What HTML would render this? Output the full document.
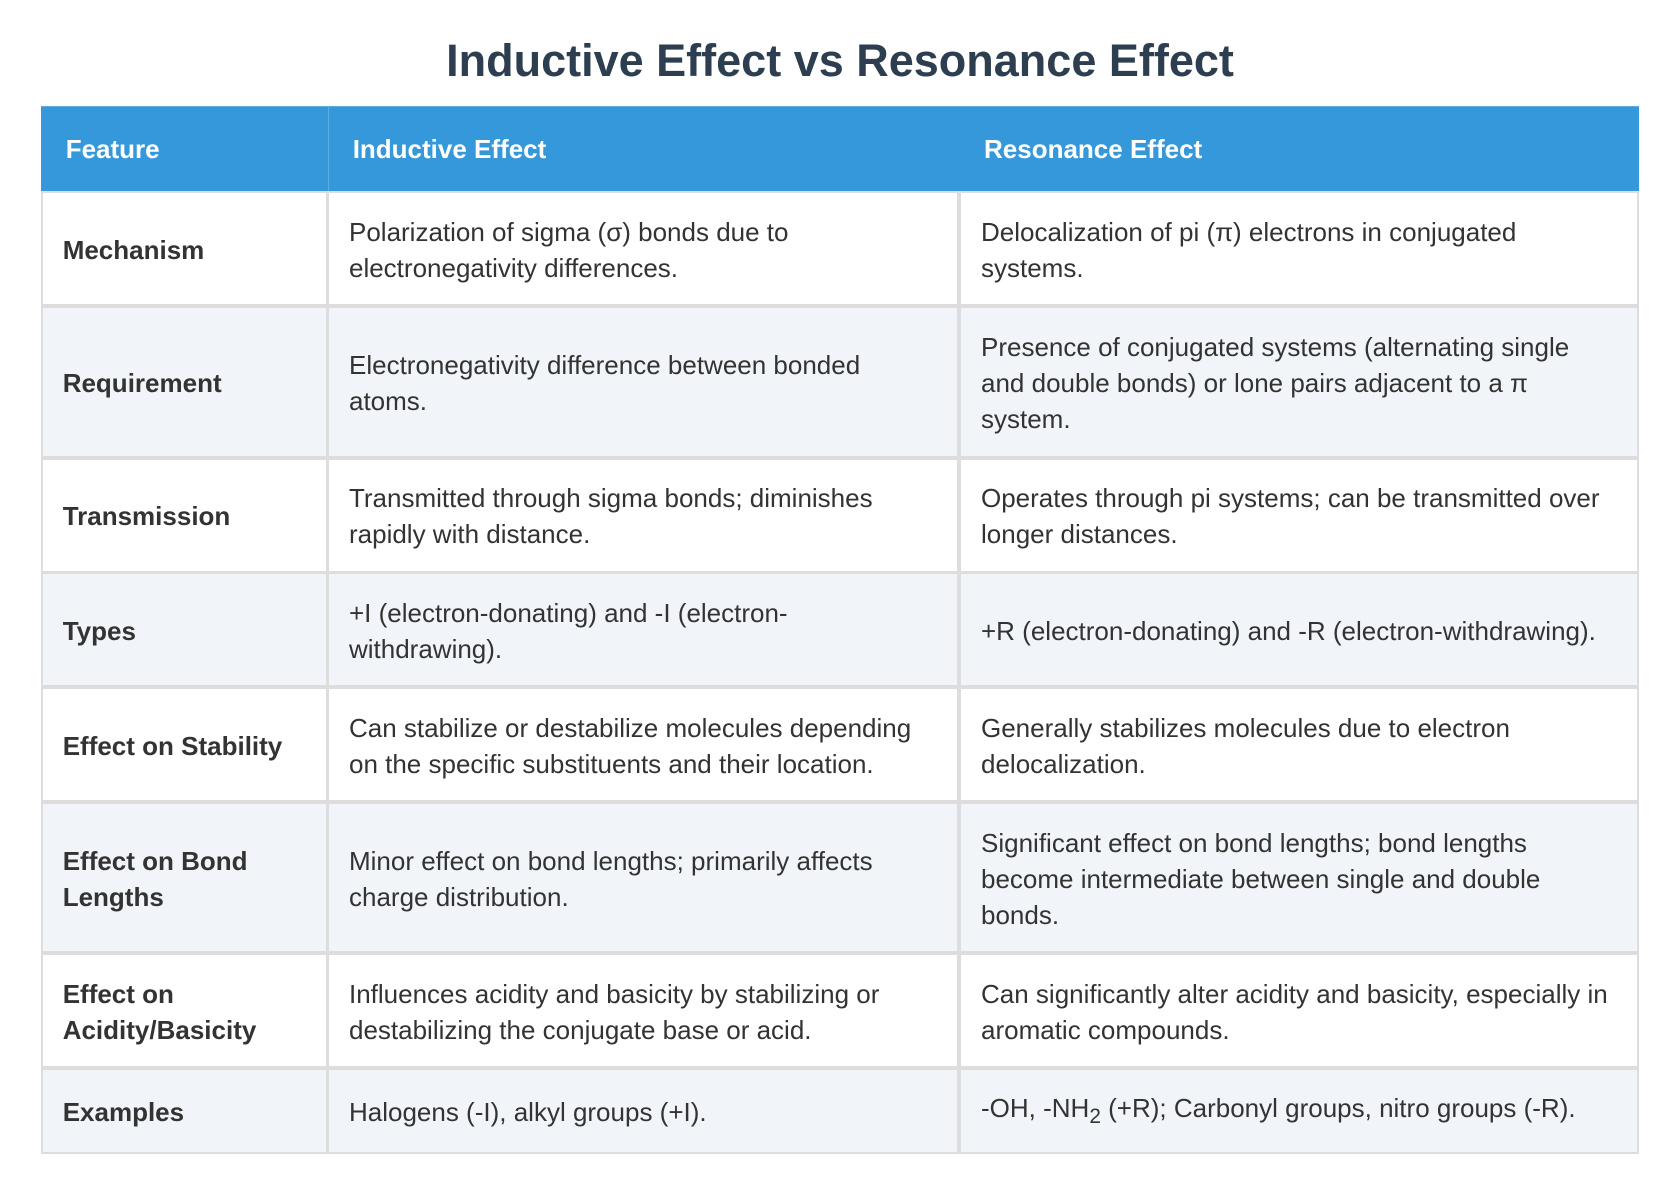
<!DOCTYPE html>
<html>
<head>
<meta charset="utf-8">
<style>
  html, body { margin:0; padding:0; background:#ffffff; }
  body { width:1680px; height:1196px; position:relative; overflow:hidden;
         font-family:"Liberation Sans", Arial, sans-serif; }
  .title { position:absolute; left:0; top:38px; width:1680px; text-align:center;
           font-size:45px; line-height:45px; font-weight:bold; color:#2c3e50; white-space:nowrap; }
  .abs { position:absolute; }
  .cell { position:absolute; display:flex; align-items:center; box-sizing:border-box;
          font-size:26px; line-height:36px; color:#333; white-space:nowrap; padding-top:2px; }
  .hd { color:#fff; font-weight:bold; padding-top:1px; }
  .b { font-weight:bold; }
  sub { font-size:0.8em; line-height:0; vertical-align:-0.3em; }
</style>
</head>
<body>
<div class="title">Inductive Effect vs Resonance Effect</div>

<!-- header -->
<div class="abs" style="left:41px;top:106px;width:1597.7px;height:85px;background:#3498db;"></div>
<div class="abs" style="left:41px;top:106px;width:1597.7px;height:1px;background:#5dade2;"></div>
<div class="abs" style="left:327.8px;top:107px;width:1px;height:84px;background:#5aaee4;"></div>
<div class="cell hd" style="left:41px;top:106px;width:287px;height:85px;padding-left:24.7px;">Feature</div>
<div class="cell hd" style="left:328.7px;top:106px;width:630px;height:85px;padding-left:24px;">Inductive Effect</div>
<div class="cell hd" style="left:959px;top:106px;width:679px;height:85px;padding-left:25px;">Resonance Effect</div>

<!-- body border background -->
<div class="abs" style="left:41px;top:191px;width:1597.7px;height:963px;background:#dddddd;"></div>

<!-- Row 1 -->
<div class="cell b" style="left:43.3px;top:193.3px;width:282.7px;height:111px;background:#fff;padding-left:19.4px;">Mechanism</div>
<div class="cell" style="left:329.3px;top:193.3px;width:627.7px;height:111px;background:#fff;padding-left:19.7px;">Polarization of sigma (σ) bonds due to<br>electronegativity differences.</div>
<div class="cell" style="left:961px;top:193.3px;width:675.7px;height:111px;background:#fff;padding-left:20px;">Delocalization of pi (π) electrons in conjugated<br>systems.</div>

<!-- Row 2 -->
<div class="cell b" style="left:43.3px;top:308.3px;width:282.7px;height:147.4px;background:#f1f4f9;padding-left:19.4px;">Requirement</div>
<div class="cell" style="left:329.3px;top:308.3px;width:627.7px;height:147.4px;background:#f1f4f9;padding-left:19.7px;">Electronegativity difference between bonded<br>atoms.</div>
<div class="cell" style="left:961px;top:308.3px;width:675.7px;height:147.4px;background:#f1f4f9;padding-left:20px;">Presence of conjugated systems (alternating single<br>and double bonds) or lone pairs adjacent to a π<br>system.</div>

<!-- Row 3 -->
<div class="cell b" style="left:43.3px;top:459.7px;width:282.7px;height:111px;background:#fff;padding-left:19.4px;">Transmission</div>
<div class="cell" style="left:329.3px;top:459.7px;width:627.7px;height:111px;background:#fff;padding-left:19.7px;">Transmitted through sigma bonds; diminishes<br>rapidly with distance.</div>
<div class="cell" style="left:961px;top:459.7px;width:675.7px;height:111px;background:#fff;padding-left:20px;">Operates through pi systems; can be transmitted over<br>longer distances.</div>

<!-- Row 4 -->
<div class="cell b" style="left:43.3px;top:574.3px;width:282.7px;height:111px;background:#f1f4f9;padding-left:19.4px;">Types</div>
<div class="cell" style="left:329.3px;top:574.3px;width:627.7px;height:111px;background:#f1f4f9;padding-left:19.7px;">+I (electron-donating) and -I (electron-<br>withdrawing).</div>
<div class="cell" style="left:961px;top:574.3px;width:675.7px;height:111px;background:#f1f4f9;padding-left:20px;">+R (electron-donating) and -R (electron-withdrawing).</div>

<!-- Row 5 -->
<div class="cell b" style="left:43.3px;top:689px;width:282.7px;height:111px;background:#fff;padding-left:19.4px;">Effect on Stability</div>
<div class="cell" style="left:329.3px;top:689px;width:627.7px;height:111px;background:#fff;padding-left:19.7px;">Can stabilize or destabilize molecules depending<br>on the specific substituents and their location.</div>
<div class="cell" style="left:961px;top:689px;width:675.7px;height:111px;background:#fff;padding-left:20px;">Generally stabilizes molecules due to electron<br>delocalization.</div>

<!-- Row 6 -->
<div class="cell b" style="left:43.3px;top:804px;width:282.7px;height:147px;background:#f1f4f9;padding-left:19.4px;">Effect on Bond<br>Lengths</div>
<div class="cell" style="left:329.3px;top:804px;width:627.7px;height:147px;background:#f1f4f9;padding-left:19.7px;">Minor effect on bond lengths; primarily affects<br>charge distribution.</div>
<div class="cell" style="left:961px;top:804px;width:675.7px;height:147px;background:#f1f4f9;padding-left:20px;">Significant effect on bond lengths; bond lengths<br>become intermediate between single and double<br>bonds.</div>

<!-- Row 7 -->
<div class="cell b" style="left:43.3px;top:955px;width:282.7px;height:111px;background:#fff;padding-left:19.4px;">Effect on<br>Acidity/Basicity</div>
<div class="cell" style="left:329.3px;top:955px;width:627.7px;height:111px;background:#fff;padding-left:19.7px;">Influences acidity and basicity by stabilizing or<br>destabilizing the conjugate base or acid.</div>
<div class="cell" style="left:961px;top:955px;width:675.7px;height:111px;background:#fff;padding-left:20px;">Can significantly alter acidity and basicity, especially in<br>aromatic compounds.</div>

<!-- Row 8 -->
<div class="cell b" style="left:43.3px;top:1070px;width:282.7px;height:81.7px;background:#f1f4f9;padding-left:19.4px;">Examples</div>
<div class="cell" style="left:329.3px;top:1070px;width:627.7px;height:81.7px;background:#f1f4f9;padding-left:19.7px;">Halogens (-I), alkyl groups (+I).</div>
<div class="cell" style="left:961px;top:1070px;width:675.7px;height:81.7px;background:#f1f4f9;padding-left:20px;padding-top:0;padding-bottom:6px;"><span>-OH, -NH<sub>2</sub> (+R); Carbonyl groups, nitro groups (-R).</span></div>

</body>
</html>
